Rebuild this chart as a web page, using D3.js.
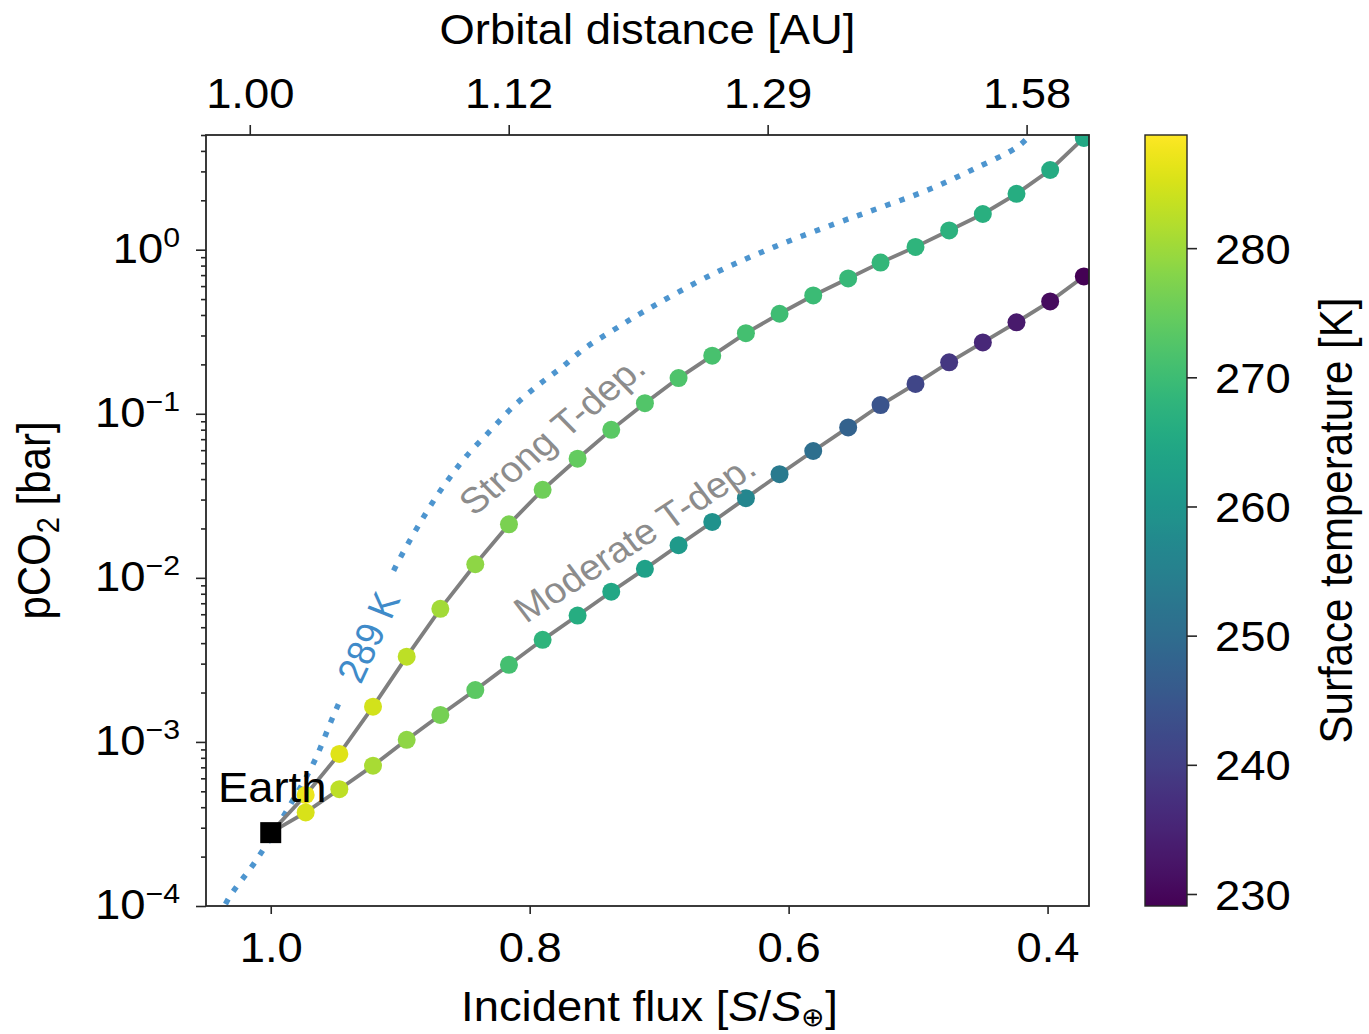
<!DOCTYPE html>
<html>
<head>
<meta charset="utf-8">
<script src="https://cdn.jsdelivr.net/npm/d3@7"></script>
<style>
  html, body { margin: 0; padding: 0; background: #fff; }
  svg { display: block; font-family: "Liberation Sans", Arial, Helvetica, sans-serif; }
</style>
</head>
<body>
<svg id="chart" width="1369" height="1034"></svg>
<script>
// ---- data -------------------------------------------------------------
// Incident flux (S/S⊕) of each model step; the first step is present-day Earth
const flux = [1.000, 0.973, 0.947, 0.921, 0.895, 0.869, 0.842, 0.816, 0.790, 0.763,
              0.737, 0.711, 0.685, 0.659, 0.633, 0.607, 0.581, 0.554, 0.529, 0.502,
              0.476, 0.450, 0.424, 0.398, 0.372];

// Strong temperature dependence of weathering: pCO2 [bar] and surface temperature [K]
const strongPCO2 = [2.8e-4, 4.75e-4, 8.45e-4, 1.64e-3, 3.31e-3, 6.47e-3, 1.21e-2, 2.12e-2, 3.44e-2, 5.32e-2,
                    7.98e-2, 0.116, 0.165, 0.226, 0.310, 0.407, 0.526, 0.668, 0.834, 1.04,
                    1.31, 1.65, 2.19, 3.06, 4.80];
const strongTemp = [288.0, 287.0, 285.8, 284.6, 282.8, 280.4, 278.6, 276.8, 275.6, 274.4,
                    273.5, 272.6, 272.0, 271.4, 270.9, 270.3, 269.7, 269.1, 268.5, 267.9,
                    267.3, 266.7, 266.1, 265.5, 264.9];

// Moderate temperature dependence of weathering
const moderatePCO2 = [2.8e-4, 3.72e-4, 5.15e-4, 7.17e-4, 1.03e-3, 1.46e-3, 2.07e-3, 2.95e-3, 4.19e-3, 5.89e-3,
                      8.23e-3, 1.135e-2, 1.58e-2, 2.19e-2, 3.06e-2, 4.28e-2, 5.93e-2, 8.26e-2, 0.113, 0.152,
                      0.206, 0.272, 0.361, 0.484, 0.687];
const moderateTemp = [288.0, 285.2, 282.8, 281.0, 278.6, 276.2, 273.8, 270.9, 267.9, 266.1,
                      264.6, 263.1, 261.3, 259.5, 256.5, 253.5, 250.6, 247.6, 244.6, 241.6,
                      238.6, 235.6, 233.2, 230.9, 229.1];

// Present-day Earth
const earthFlux = 1.0;
const earthPCO2 = 2.8e-4;

// 289 K isotherm (flux, pCO2)
const isoFlux = [1.040, 1.032, 1.011, 0.985, 0.967, 0.953, 0.948, 0.927, 0.906, 0.877,
                 0.863, 0.849, 0.831, 0.814, 0.795, 0.776, 0.757, 0.735, 0.713, 0.658,
                 0.611, 0.564, 0.528, 0.492, 0.457, 0.422, 0.408];
const isoPCO2 = [8.5e-5, 1.13e-4, 1.91e-4, 4.13e-4, 7.41e-4, 1.36e-3, 1.68e-3, 4.25e-3, 1.07e-2, 2.72e-2,
                 3.96e-2, 5.50e-2, 7.80e-2, 0.108, 0.146, 0.190, 0.252, 0.325, 0.415, 0.714,
                 1.04, 1.44, 1.82, 2.32, 3.10, 4.31, 5.6];

// Axis ticks
const fluxTicks = [1.0, 0.8, 0.6, 0.4];
const fluxTickLabels = ["1.0", "0.8", "0.6", "0.4"];
const distTickLabels = ["1.00", "1.12", "1.29", "1.58"];
const pco2Exponents = [0, -1, -2, -3, -4];
const tempTicks = [230, 240, 250, 260, 270, 280];
const tempRange = [229.07, 288.76];

// ---- layout -----------------------------------------------------------
const X0 = 206, X1 = 1089, Y0 = 135, Y1 = 906;
const CB0 = 1145, CB1 = 1187;
const SX = 1.08;          // horizontal glyph stretch
const FONT = 42;
const INK = "#262626";

const svg = d3.select("#chart");

const x = d3.scaleLinear().domain([1.05, 0.368]).range([X0, X1]);
const xTop = d3.scaleLinear().domain([1.0338, 0.3518]).range([X0, X1]);
const y = d3.scaleLog().domain([1e-4, 5]).range([Y1, Y0]);
const color = d3.scaleSequential(d3.interpolateViridis).domain(tempRange);
const tScale = d3.scaleLinear().domain(tempRange).range([Y1, Y0]);

// text helper: places text with a given on-screen rotation and horizontal stretch
function place(sel, px, py, angleDeg) {
  const a = (angleDeg || 0) * Math.PI / 180;
  const pre = Math.atan2(Math.sin(a), Math.cos(a) / SX) * 180 / Math.PI;
  return sel.attr("transform", `translate(${px},${py}) scale(${SX},1) rotate(${pre})`);
}

const defs = svg.append("defs");
defs.append("clipPath").attr("id", "plotClip")
  .append("rect").attr("x", X0).attr("y", Y0).attr("width", X1 - X0).attr("height", Y1 - Y0);

// gap in the isotherm where its inline label sits
const labelPos = { x: 368, y: 637, angle: -65 };
const mask = defs.append("mask").attr("id", "isoMask").attr("maskUnits", "userSpaceOnUse")
  .attr("x", 0).attr("y", 0).attr("width", 1369).attr("height", 1034);
mask.append("rect").attr("width", 1369).attr("height", 1034).attr("fill", "#fff");
mask.append("rect").attr("x", -66).attr("y", -22).attr("width", 132).attr("height", 44)
  .attr("fill", "#000")
  .attr("transform", `translate(${labelPos.x},${labelPos.y}) rotate(${labelPos.angle})`);

const grad = defs.append("linearGradient").attr("id", "viridisBar")
  .attr("x1", 0).attr("y1", 1).attr("x2", 0).attr("y2", 0);
d3.range(0, 1.0001, 0.02).forEach(t => {
  grad.append("stop").attr("offset", t).attr("stop-color", d3.interpolateViridis(t));
});

// ---- plot contents ----------------------------------------------------
const plot = svg.append("g").attr("clip-path", "url(#plotClip)");

const isoLine = d3.line()
  .x((d, i) => x(isoFlux[i]))
  .y((d, i) => y(isoPCO2[i]))
  .curve(d3.curveCatmullRom.alpha(0.5));

plot.append("path")
  .attr("d", isoLine(isoFlux))
  .attr("fill", "none")
  .attr("stroke", "#4d95cf")
  .attr("stroke-width", 5.5)
  .attr("stroke-dasharray", "5.5 9.5")
  .attr("mask", "url(#isoMask)");

const series = [
  { p: strongPCO2, t: strongTemp },
  { p: moderatePCO2, t: moderateTemp }
];

const seriesLine = d3.line().x(d => x(d.f)).y(d => y(d.p));

series.forEach(s => {
  const pts = flux.map((f, i) => ({ f, p: s.p[i], t: s.t[i] }));
  plot.append("path")
    .attr("d", seriesLine(pts))
    .attr("fill", "none")
    .attr("stroke", "#7f7f7f")
    .attr("stroke-width", 3.8);
  s.pts = pts;
});

series.forEach(s => {
  plot.append("g").selectAll("circle")
    .data(s.pts)
    .join("circle")
    .attr("cx", d => x(d.f))
    .attr("cy", d => y(d.p))
    .attr("r", 9)
    .attr("fill", d => color(d.t));
});

// Earth marker
plot.append("rect")
  .attr("x", x(earthFlux) - 10.5)
  .attr("y", y(earthPCO2) - 10.5)
  .attr("width", 21).attr("height", 21)
  .attr("fill", "#000");

place(svg.append("text"), 218, 802, 0)
  .attr("font-size", FONT).attr("fill", "#000").text("Earth");

// inline labels
place(svg.append("text"), 474, 517, -40)
  .attr("font-size", 36).attr("fill", "#8c8c8c").text("Strong T-dep.");
place(svg.append("text"), 526, 624, -33)
  .attr("font-size", 36).attr("fill", "#8c8c8c").text("Moderate T-dep.");
place(svg.append("text"), labelPos.x, labelPos.y, labelPos.angle)
  .attr("font-size", 36).attr("fill", "#3f8bc9")
  .attr("text-anchor", "middle").attr("dy", "0.36em")
  .text("289 K");

// ---- axes -------------------------------------------------------------
function styleAxis(g) {
  g.select(".domain").remove();
  g.selectAll(".tick line").attr("stroke", INK).attr("stroke-width", 1.6);
  g.selectAll("text").attr("fill", "#000").attr("font-size", FONT)
    .attr("font-family", null);
}

// bottom: incident flux
const gBottom = svg.append("g").attr("transform", `translate(0,${Y1})`)
  .call(d3.axisBottom(x).tickValues(fluxTicks).tickSize(8)
    .tickFormat((d, i) => fluxTickLabels[i]));
styleAxis(gBottom);
gBottom.selectAll("text").attr("y", 56).attr("dy", null)
  .attr("transform", `scale(${SX},1)`);

// top: orbital distance
const gTop = svg.append("g").attr("transform", `translate(0,${Y0})`)
  .call(d3.axisTop(xTop).tickValues(fluxTicks).tickSize(10)
    .tickFormat((d, i) => distTickLabels[i]));
styleAxis(gTop);
gTop.selectAll("text").attr("y", -27).attr("dy", null)
  .attr("transform", `scale(${SX},1)`);

// left: pCO2, log scale with minor ticks
const majorVals = pco2Exponents.map(e => Math.pow(10, e));
const minorVals = [];
for (let e = -4; e <= 0; e++) {
  for (let m = 2; m <= 9; m++) {
    const v = m * Math.pow(10, e);
    if (v <= 5) minorVals.push(v);
  }
}
const gMinor = svg.append("g").attr("transform", `translate(${X0},0)`)
  .call(d3.axisLeft(y).tickValues(minorVals).tickSize(5).tickFormat(""));
styleAxis(gMinor);

const gLeft = svg.append("g").attr("transform", `translate(${X0},0)`)
  .call(d3.axisLeft(y).tickValues(majorVals).tickSize(10).tickFormat(""));
styleAxis(gLeft);
gLeft.selectAll(".tick").each(function (d, i) {
  const exp = pco2Exponents[i];
  const t = d3.select(this).append("text")
    .attr("x", -26 / SX).attr("y", 12.5)
    .attr("text-anchor", "end")
    .attr("font-size", FONT).attr("fill", "#000")
    .attr("transform", `scale(${SX},1)`);
  t.append("tspan").text("10");
  t.append("tspan").attr("dy", -16).attr("font-size", 28)
    .text(exp === 0 ? "0" : "\u2212" + Math.abs(exp));
});

// plot frame
svg.append("rect")
  .attr("x", X0).attr("y", Y0).attr("width", X1 - X0).attr("height", Y1 - Y0)
  .attr("fill", "none").attr("stroke", INK).attr("stroke-width", 1.8);

// axis titles
place(svg.append("text"), (X0 + X1) / 2 + 2, 1021, 0)
  .attr("font-size", FONT).attr("text-anchor", "middle").attr("fill", "#000")
  .call(t => {
    t.append("tspan").text("Incident flux [");
    t.append("tspan").attr("font-style", "italic").text("S");
    t.append("tspan").text("/");
    t.append("tspan").attr("font-style", "italic").text("S");
    t.append("tspan").attr("font-size", 26).attr("dy", 5).text("\u2295");
    t.append("tspan").attr("dy", -5).text("]");
  });

place(svg.append("text"), (X0 + X1) / 2, 44, 0)
  .attr("font-size", FONT).attr("text-anchor", "middle").attr("fill", "#000")
  .text("Orbital distance [AU]");

place(svg.append("text"), 50, (Y0 + Y1) / 2, -90)
  .attr("font-size", FONT).attr("text-anchor", "middle").attr("fill", "#000")
  .call(t => {
    t.append("tspan").text("pCO");
    t.append("tspan").attr("font-size", 29).attr("dy", 8).text("2");
    t.append("tspan").attr("dy", -8).text(" [bar]");
  });

// ---- colorbar ---------------------------------------------------------
svg.append("rect")
  .attr("x", CB0).attr("y", Y0).attr("width", CB1 - CB0).attr("height", Y1 - Y0)
  .attr("fill", "url(#viridisBar)")
  .attr("stroke", INK).attr("stroke-width", 1.4);

const gCb = svg.append("g").attr("transform", `translate(${CB1},0)`)
  .call(d3.axisRight(tScale).tickValues(tempTicks).tickSize(10).tickFormat(d3.format("d")));
styleAxis(gCb);
gCb.selectAll("text").attr("x", 28 / SX).attr("dy", "0.36em")
  .attr("transform", `scale(${SX},1)`);

place(svg.append("text"), 1352, (Y0 + Y1) / 2, -90)
  .attr("font-size", FONT).attr("text-anchor", "middle").attr("fill", "#000")
  .text("Surface temperature [K]");
</script>
</body>
</html>
